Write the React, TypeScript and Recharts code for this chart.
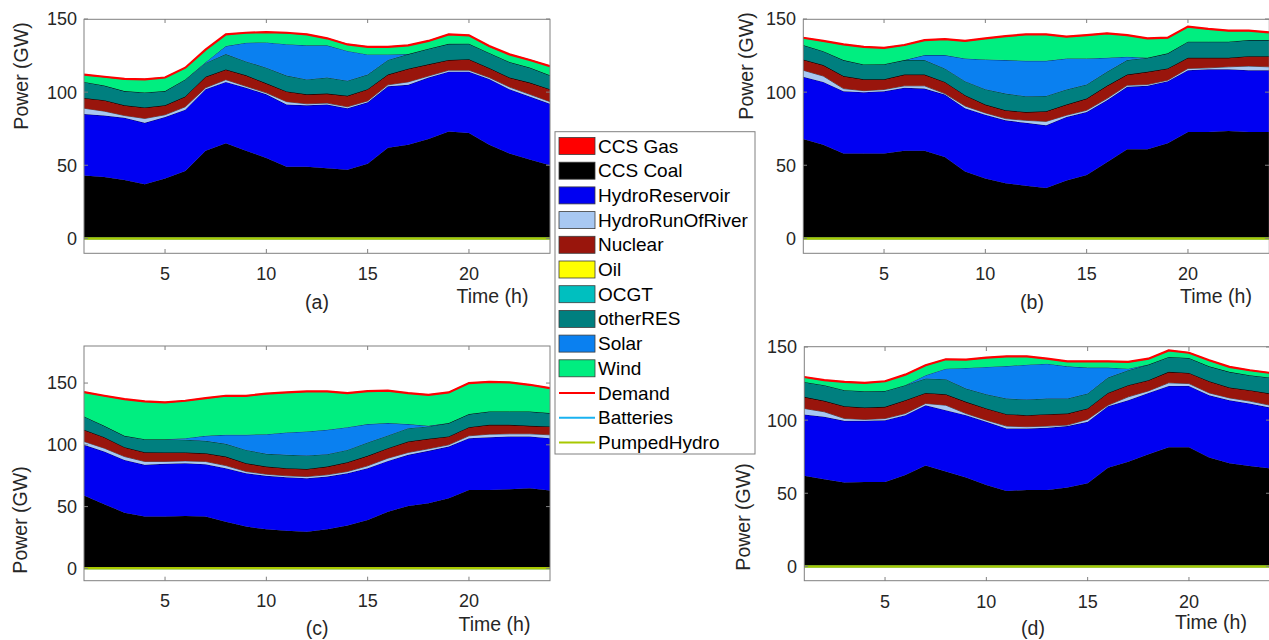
import { ComposedChart, Area, Line, XAxis, YAxis } from "recharts";

const FONT = '"Liberation Sans", Arial, Helvetica, sans-serif';
const AXIS = "#808080";
const TXT = "#262626";

const hours = [1, 2, 3, 4, 5, 6, 7, 8, 9, 10, 11, 12, 13, 14, 15, 16, 17, 18, 19, 20, 21, 22, 23, 24];
const zeros = [0, 0, 0, 0, 0, 0, 0, 0, 0, 0, 0, 0, 0, 0, 0, 0, 0, 0, 0, 0, 0, 0, 0, 0];
const xTicks = [5, 10, 15, 20];
const yTicks = [0, 50, 100, 150];

// (a)
const coalA = [43, 42, 40, 37, 41, 46, 60, 65, 60, 55, 49, 49, 48, 47, 51, 62, 64, 68, 73, 72, 64, 58, 54, 50];
const hydroA = [42, 42, 42.5, 42, 42, 42, 42, 42, 43, 43.5, 42.5, 42, 43.5, 42, 42, 42, 41, 42, 41, 42, 45, 44, 43, 42];
const rorA = [4, 3, 1.5, 3, 1.5, 2, 1, 1.5, 1, 1, 2, 1, 1, 1, 1, 1, 2, 1, 1, 1, 1, 1.5, 1.5, 1.5];
const nuclearA = [7, 7.5, 7, 7.5, 6.5, 7, 7.5, 7, 7.5, 6.5, 7, 6.5, 6.5, 7.5, 8, 7, 9, 8, 7, 7.5, 6.5, 6.5, 8, 8.5];
const otherA = [11, 10, 9.7, 10.3, 9.7, 11.7, 9.5, 10.5, 9.5, 10.7, 10.8, 10.2, 11, 10.3, 10, 10, 10, 10.7, 11, 10.6, 10.3, 10.6, 10.3, 9.5];
const solarA = [0, 0, 0, 0, 0, 0, 0.5, 5.5, 12.8, 17.3, 21.5, 23.3, 22, 20.4, 13.8, 3.8, 0, 0, 0, 0, 0, 0, 0, 0];
const windA = [5, 5.9, 8.3, 9.1, 9.3, 8, 8.5, 8, 6.8, 7, 7.6, 7.5, 4.8, 4.6, 5.2, 5.2, 6, 5.3, 6.5, 5.8, 4.5, 5.2, 5.3, 6.3];
const demandA = [112, 110.5, 109, 108.7, 110, 116.7, 129, 139.5, 140.6, 141, 140.6, 139.5, 136.8, 132.6, 131, 131, 132, 135, 139.5, 138.8, 131.5, 125.8, 122, 117.8];

// (b)
const coalB = [68, 64, 58, 58, 58, 60, 60, 55.6, 45.7, 41, 37.7, 36, 34.5, 39.5, 43.4, 52, 61, 61, 65, 72.7, 72.7, 73.4, 72.7, 72.7];
const hydroB = [42.5, 43, 42.6, 42, 42.6, 43, 42.4, 42.7, 43.3, 43.6, 43, 43, 42.8, 43.5, 43, 42.4, 42.6, 43.3, 42.5, 42.3, 43, 42.3, 42.3, 42.3];
const rorB = [4.5, 4, 1.8, 1, 1.2, 1.3, 1.9, 0.7, 1.5, 1.2, 1.2, 1.7, 2.7, 1.2, 1.2, 1.2, 1.1, 0.9, 0.7, 1.2, 0.9, 1.6, 2.8, 2.3];
const nuclearB = [7.3, 7.5, 8.6, 7.8, 7, 7.7, 7.7, 8, 7.4, 5.7, 5.7, 5.7, 6.9, 7.3, 8, 8.7, 7.3, 8.7, 8, 7.3, 6.9, 6.2, 6.8, 7.3];
const otherB = [9.9, 9.5, 10.9, 10.1, 10.3, 9.9, 9.9, 9.2, 9.6, 10.5, 11.4, 10.8, 10.5, 10.3, 9.6, 9.6, 9.9, 9.6, 10.3, 11, 11, 11, 11, 11];
const solarB = [0, 0, 0, 0, 0, 0, 3.4, 9.1, 15.5, 20.3, 22.9, 24.2, 24, 21.2, 17.8, 9.6, 2.3, 0, 0, 0, 0, 0, 0, 0];
const windB = [5, 7, 10.7, 12.1, 11.2, 10.3, 10.3, 11, 12, 14.4, 16.4, 18.1, 18.1, 14.9, 16, 16.7, 14.8, 13.2, 10.7, 10.3, 8.7, 7.5, 6.4, 5.3];
const demandB = [137.2, 135, 132.6, 131, 130.3, 132.2, 135.6, 136.3, 135, 136.7, 138.3, 139.5, 139.5, 137.9, 139, 140.2, 139, 136.7, 137.2, 144.8, 143.2, 142, 142, 140.9];

// (c)
const coalC = [58.9, 51.9, 45.1, 41.9, 41.9, 42.4, 41.9, 37.8, 33.8, 31.6, 30.5, 29.7, 31.6, 34.6, 39.2, 45.9, 50.5, 52.7, 56.8, 63.5, 63.5, 64, 64.9, 63];
const hydroC = [41.1, 42.7, 42.7, 41.9, 42.7, 42.7, 42.4, 43.3, 43.2, 43.3, 43.3, 43.3, 42.7, 42.4, 41.9, 41.1, 41.4, 42.4, 41.8, 41.9, 42.7, 42.8, 41.9, 42.4];
const rorC = [2.7, 2.7, 2.7, 2.7, 1.9, 1.9, 2.2, 2.1, 1.4, 1.3, 1.1, 1.3, 1.4, 1.4, 1.9, 2.2, 1.9, 1.7, 1.4, 1.9, 2.4, 2.1, 2.1, 2.7];
const nuclearC = [9.5, 8.9, 7.6, 7.5, 7.3, 6.8, 6.7, 7.3, 6.7, 6.2, 6.2, 6.2, 6.7, 7.5, 8.1, 8.1, 8.9, 8.1, 6.8, 7, 7.6, 7.3, 6.5, 6.8];
const otherC = [10.8, 9.2, 9.2, 10.6, 10.8, 10.3, 10, 10.3, 10.8, 10.3, 10.8, 10.9, 10, 10, 10.8, 10.3, 10.8, 10, 10.8, 10.6, 10.8, 10.8, 11.6, 10.8];
const solarC = [0, 0, 0, 0, 0, 1.3, 4.1, 7.3, 12.2, 15.9, 18.1, 19.4, 19.8, 18.4, 14.9, 10, 3.3, 0.5, 0, 0, 0, 0, 0, 0];
const windC = [19.7, 24.3, 29.7, 30.5, 29.7, 30.3, 30.5, 31.6, 31.6, 32.8, 32.4, 32.4, 31, 27.6, 26.7, 26.2, 25.1, 25.1, 24.8, 25.1, 24, 23.5, 21.6, 20.2];
const demandC = [142.7, 139.7, 137, 135.1, 134.3, 135.7, 137.8, 139.7, 139.7, 141.4, 142.4, 143.2, 143.2, 141.9, 143.5, 143.8, 141.9, 140.5, 142.4, 150, 151, 150.5, 148.6, 145.9];

// (d)
const coalD = [62, 59.5, 57.3, 57.7, 57.7, 62.5, 68.9, 64.8, 60.7, 55.7, 51.6, 52.3, 52.3, 53.9, 56.8, 67.5, 71.6, 76.6, 81.4, 81.4, 74.5, 70.5, 68.6, 67];
const hydroD = [41.9, 42.8, 42.2, 41.8, 42.3, 40.9, 41.3, 42, 42.7, 43.2, 42.7, 42, 42.5, 42, 42.1, 42, 42, 42, 42, 42, 42.5, 43.1, 42.8, 41.6];
const rorD = [4.1, 3.4, 1.6, 1, 1.1, 1.1, 1.2, 3.4, 1.1, 1.1, 1.6, 1.2, 1.1, 0.7, 1.6, 0.7, 2.3, 1.4, 2.1, 1.6, 1.6, 1.6, 1.6, 1.6];
const nuclearD = [7.9, 7.5, 8.4, 8.1, 8, 9.1, 7.2, 7.5, 8, 8, 8.2, 7.9, 8.2, 7.9, 7.5, 8.4, 8, 7.3, 7.5, 7.3, 8, 7.1, 7.5, 8];
const otherD = [10.2, 10.7, 11, 11.2, 10.9, 10.3, 9.8, 10.3, 9.1, 9.7, 10.7, 10.7, 10.7, 10.3, 10.2, 10.5, 10.2, 10.7, 10.2, 10.2, 10.2, 10.7, 10.2, 10.9];
const solarD = [0, 0, 0, 0, 0, 0, 2.3, 7.2, 14.1, 18.7, 22.2, 23.8, 23.8, 22, 17.7, 6.8, 1.1, 0, 0, 0, 0, 0, 0, 0];
const windD = [3.4, 3.4, 5.6, 5.7, 6.6, 7.2, 6.8, 6.4, 5.7, 6.3, 6.6, 5.7, 3.4, 3.4, 4.3, 4.3, 4.6, 4, 4.5, 3.6, 4.1, 3.4, 3.4, 3.2];
const demandD = [129.5, 127.3, 126.1, 125.5, 126.6, 131.1, 137.5, 141.6, 141.4, 142.7, 143.6, 143.6, 142, 140.2, 140.2, 140.2, 139.8, 142, 147.7, 146.1, 140.9, 136.4, 134.1, 132.3];

const AREAS = [
  { key: "ccsGas", name: "CCS Gas", color: "#FF0000" },
  { key: "coal", name: "CCS Coal", color: "#000000" },
  { key: "hydro", name: "HydroReservoir", color: "#0000F2" },
  { key: "ror", name: "HydroRunOfRiver", color: "#A8C8F2" },
  { key: "nuclear", name: "Nuclear", color: "#99150C" },
  { key: "oil", name: "Oil", color: "#FFFF00" },
  { key: "ocgt", name: "OCGT", color: "#00BFBF" },
  { key: "other", name: "otherRES", color: "#007F7F" },
  { key: "solar", name: "Solar", color: "#0A80F0" },
  { key: "wind", name: "Wind", color: "#00EE80" },
];

const LINES = [
  { key: "demand", name: "Demand", color: "#FF0000", width: 2.2 },
  { key: "batteries", name: "Batteries", color: "#1AB2F0", width: 2 },
  { key: "pumped", name: "PumpedHydro", color: "#A8C800", width: 2.5 },
];

function buildRows(coal, hydro, ror, nuclear, other, solar, wind, demand) {
  return hours.map((h, i) => ({
    hour: h,
    ccsGas: zeros[i],
    coal: coal[i],
    hydro: hydro[i],
    ror: ror[i],
    nuclear: nuclear[i],
    oil: zeros[i],
    ocgt: zeros[i],
    other: other[i],
    solar: solar[i],
    wind: wind[i],
    demand: demand[i],
    batteries: zeros[i],
    pumped: zeros[i],
  }));
}

const PANELS = [
  {
    id: "a",
    rows: buildRows(coalA, hydroA, rorA, nuclearA, otherA, solarA, windA, demandA),
    left: 84, top: 19.3, h: 234, yMax: 150,
    yLab: [20.5, 76], time: [492.5, 296], tag: [317, 302],
  },
  {
    id: "b",
    rows: buildRows(coalB, hydroB, rorB, nuclearB, otherB, solarB, windB, demandB),
    left: 803.3, top: 19.3, h: 234, yMax: 150,
    yLab: [746, 66], time: [1216, 296], tag: [1032, 302],
  },
  {
    id: "c",
    rows: buildRows(coalC, hydroC, rorC, nuclearC, otherC, solarC, windC, demandC),
    left: 84, top: 346, h: 234.7, yMax: 180,
    yLab: [20, 520], time: [494.5, 624], tag: [317, 628],
  },
  {
    id: "d",
    rows: buildRows(coalD, hydroD, rorD, nuclearD, otherD, solarD, windD, demandD),
    left: 804.3, top: 346.7, h: 234, yMax: 150,
    yLab: [743, 517], time: [1211, 622], tag: [1033, 628],
  },
];

const PLOT_W = 466;

const XTick = (props) => {
  const { x, y, payload, plotH } = props;
  const base = y - 14;
  return (
    <g>
      <line x1={x} x2={x} y1={base} y2={base - 4} stroke={AXIS} />
      <line x1={x} x2={x} y1={base - plotH} y2={base - plotH + 4} stroke={AXIS} />
      <text x={x} y={y} dy="0.71em" textAnchor="middle" fontSize={18} fontFamily={FONT} fill={TXT}>
        {payload.value}
      </text>
    </g>
  );
};

const YTick = (props) => {
  const { x, y, payload } = props;
  const base = x + 7;
  return (
    <g>
      <line x1={base} x2={base + 4} y1={y} y2={y} stroke={AXIS} />
      <line x1={base + PLOT_W} x2={base + PLOT_W - 4} y1={y} y2={y} stroke={AXIS} />
      <text x={x} y={y} dy="0.355em" textAnchor="end" fontSize={18} fontFamily={FONT} fill={TXT}>
        {payload.value}
      </text>
    </g>
  );
};

function Panel({ p }) {
  return (
    <div style={{ position: "absolute", left: p.left - 84, top: p.top - 20 }}>
      <ComposedChart
        width={560}
        height={320}
        data={p.rows}
        margin={{ top: 20, right: 10, left: 24, bottom: 320 - 20 - p.h - 40 }}
      >
        <XAxis
          dataKey="hour"
          type="number"
          domain={[1, 24]}
          ticks={xTicks}
          interval={0}
          height={40}
          tickSize={0}
          tickMargin={14}
          axisLine={false}
          tickLine={false}
          allowDataOverflow
          tick={(t) => <XTick {...t} plotH={p.h} />}
        />
        <YAxis
          type="number"
          domain={[-10, p.yMax]}
          ticks={yTicks}
          interval={0}
          width={60}
          tickSize={0}
          tickMargin={7}
          axisLine={false}
          tickLine={false}
          allowDataOverflow
          tick={(t) => <YTick {...t} />}
        />
        {AREAS.map((s) => (
          <Area
            key={s.key}
            type="linear"
            dataKey={s.key}
            name={s.name}
            stackId="gen"
            stroke="#000"
            strokeWidth={0.6}
            fill={s.color}
            fillOpacity={1}
            dot={false}
            activeDot={false}
            isAnimationActive={false}
          />
        ))}
        {LINES.map((s) => (
          <Line
            key={s.key}
            type="linear"
            dataKey={s.key}
            name={s.name}
            stroke={s.color}
            strokeWidth={s.width}
            dot={false}
            activeDot={false}
            isAnimationActive={false}
          />
        ))}
      </ComposedChart>
    </div>
  );
}

export default function App() {
  const legend = [...AREAS.map((s) => ({ ...s, line: false })), ...LINES.map((s) => ({ ...s, line: true }))];
  return (
    <div
      style={{
        position: "fixed",
        left: 0,
        top: 0,
        width: 1269,
        height: 640,
        overflow: "hidden",
        background: "#fff",
        fontFamily: FONT,
      }}
    >
      {PANELS.map((p) => (
        <Panel key={p.id} p={p} />
      ))}
      <svg
        width={1269}
        height={640}
        style={{ position: "absolute", left: 0, top: 0, pointerEvents: "none" }}
        fontFamily={FONT}
      >
        {PANELS.map((p) => (
          <g key={p.id}>
            <rect x={p.left} y={p.top} width={PLOT_W} height={p.h} fill="none" stroke={AXIS} strokeWidth={1} />
            <text
              x={p.yLab[0]}
              y={p.yLab[1]}
              transform={`rotate(-90 ${p.yLab[0]} ${p.yLab[1]})`}
              textAnchor="middle"
              dominantBaseline="central"
              fontSize={19.5}
              fill={TXT}
            >
              Power (GW)
            </text>
            <text x={p.time[0]} y={p.time[1]} textAnchor="middle" dominantBaseline="central" fontSize={19.5} fill={TXT}>
              Time (h)
            </text>
            <text x={p.tag[0]} y={p.tag[1]} textAnchor="middle" dominantBaseline="central" fontSize={19.5} fill={TXT}>
              ({p.id})
            </text>
          </g>
        ))}
        <rect x={555} y={131.7} width={200} height={322.3} fill="#fff" stroke={AXIS} strokeWidth={1} />
        {legend.map((s, i) => {
          const cy = 146 + i * 24.7;
          return (
            <g key={s.key}>
              {s.line ? (
                <line x1={559} x2={595} y1={cy} y2={cy} stroke={s.color} strokeWidth={2} />
              ) : (
                <rect x={559} y={cy - 8.5} width={36} height={17} fill={s.color} stroke="#3c3c3c" strokeWidth={0.8} />
              )}
              <text x={598} y={cy} dominantBaseline="central" fontSize={19} fill="#000">
                {s.name}
              </text>
            </g>
          );
        })}
      </svg>
    </div>
  );
}
